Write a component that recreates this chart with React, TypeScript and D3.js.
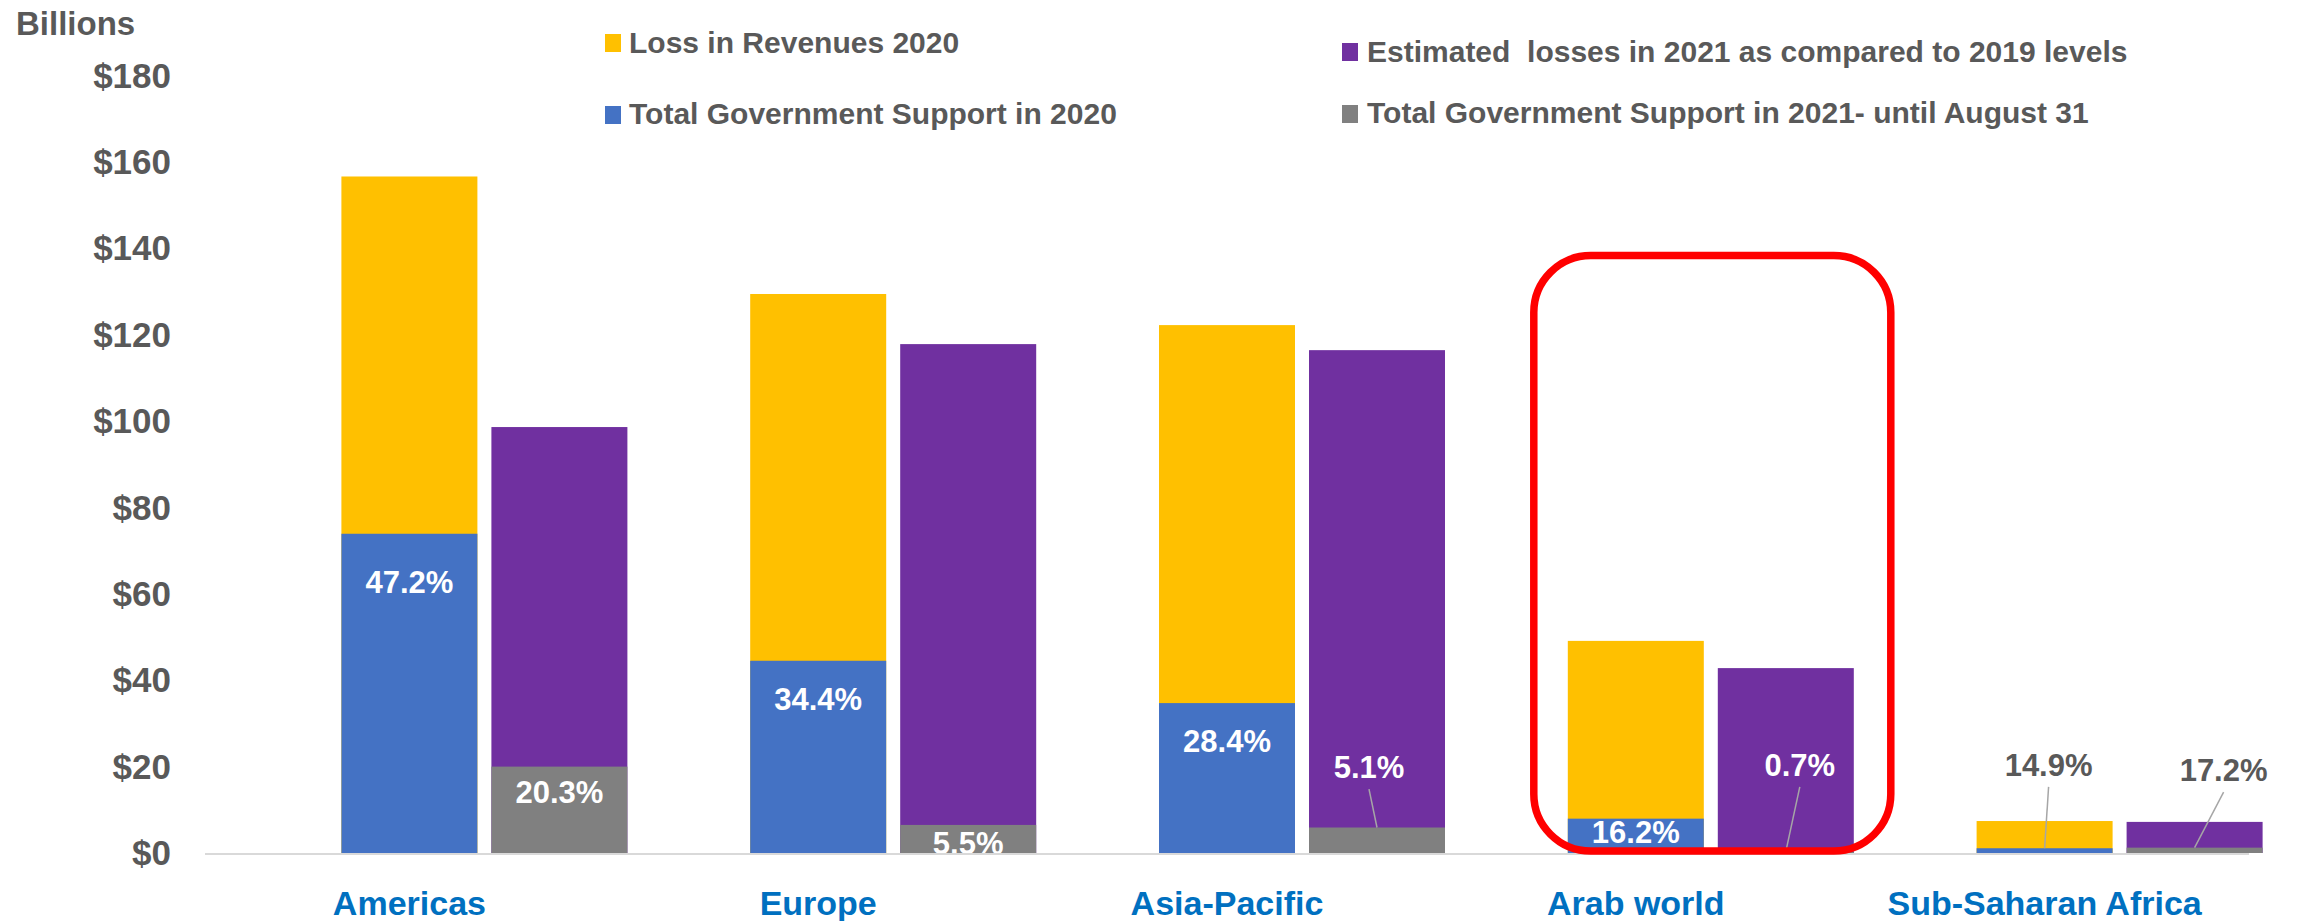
import * as d3 from "d3";

// regions on the x axis
const regions = ["Americas", "Europe", "Asia-Pacific", "Arab world", "Sub-Saharan Africa"];

// billions of dollars
const lossRevenue2020 = [156.6, 129.4, 122.2, 49.1, 7.4];
const govSupport2020 = [73.9, 44.5, 34.7, 7.95, 1.1];
const lossEstimate2021 = [98.6, 117.8, 116.4, 42.8, 7.2];
const govSupport2021 = [20.0, 6.5, 5.9, 0.3, 1.24];

// share of the loss covered by support, as printed
const share2020 = ["47.2%", "34.4%", "28.4%", "16.2%", "14.9%"];
const share2021 = ["20.3%", "5.5%", "5.1%", "0.7%", "17.2%"];
// level (in billions) where each share label sits
const share2020At = [62.7, 35.6, 25.9, 4.9, 20.4];
const share2021At = [14.1, 2.3, 19.9, 20.4, 19.2];
// small sideways nudges of the callout labels (px)
const share2020Nudge = [0, 0, 0, 0, 4];
const share2021Nudge = [0, 0, -8, 14, 29];

const yTicks = [0, 20, 40, 60, 80, 100, 120, 140, 160, 180];

const legendItems = [
  { label: "Loss in Revenues 2020", color: "#FFC000" },
  { label: "Total Government Support in 2020", color: "#4472C4" },
  { label: "Estimated  losses in 2021 as compared to 2019 levels", color: "#7030A0" },
  { label: "Total Government Support in 2021- until August 31", color: "#808080" },
];

const highlightRegion = "Arab world";
const highlightTop = 138.3;

const W = 2297;
const H = 921;
const FONT = "'Liberation Sans', Arial, sans-serif";
const TEXT_GREY = "#595959";

const x = d3.scaleBand<string>().domain(regions).range([205, 2249]).padding(0);
const y = d3.scaleLinear().domain([0, 180]).range([853, 75.4]);

const barW = 136;
const barGap = 14;
const fmt = (v: number) => "$" + d3.format("d")(v);

// left column of a group is centred in the band, the 2021 column sits to its right
const col2020 = (r: string) => x(r)! + x.bandwidth() / 2 - barW / 2;
const col2021 = (r: string) => col2020(r) + barW + barGap;

export default function App() {
  const legendPos = [
    { sx: 605, sy: 34, tx: 629, ty: 53 },
    { sx: 605, sy: 106, tx: 629, ty: 124 },
    { sx: 1342, sy: 43, tx: 1367, ty: 62 },
    { sx: 1342, sy: 105, tx: 1367, ty: 123 },
  ];

  const shareLabels = (
    col: (r: string) => number,
    total: number[],
    part: number[],
    texts: string[],
    at: number[],
    nudge: number[]
  ) =>
    regions.map((r, i) => {
      const cx = col(r) + barW / 2;
      const lx = cx + nudge[i];
      const ly = y(at[i]);
      const outside = at[i] > part[i];
      const aboveBar = at[i] > total[i];
      return (
        <g key={r + texts[i]}>
          {outside && (
            <line
              x1={lx}
              y1={ly + 22}
              x2={cx}
              y2={y(part[i])}
              stroke="#A6A6A6"
              strokeWidth={1.5}
            />
          )}
          <text
            x={lx}
            y={ly}
            dy="0.35em"
            textAnchor="middle"
            fontSize={31}
            fontWeight="bold"
            fill={aboveBar ? TEXT_GREY : "#FFFFFF"}
            clipPath="url(#plotClip)"
          >
            {texts[i]}
          </text>
        </g>
      );
    });

  const hx = col2020(highlightRegion) - 34;
  const hx2 = col2021(highlightRegion) + barW + 37;

  return (
    <svg
      width={W}
      height={H}
      style={{ position: "absolute", left: 0, top: 0, background: "#fff" }}
      fontFamily={FONT}
    >
      <defs>
        <clipPath id="plotClip">
          <rect x={0} y={0} width={W} height={y(0)} />
        </clipPath>
      </defs>

      <text x={16} y={35} fontSize={33} fontWeight="bold" fill={TEXT_GREY}>
        Billions
      </text>

      {yTicks.map((t) => (
        <text
          key={t}
          x={171}
          y={y(t)}
          dy="0.35em"
          textAnchor="end"
          fontSize={35}
          fontWeight="bold"
          fill={TEXT_GREY}
        >
          {fmt(t)}
        </text>
      ))}

      {legendItems.map((d, i) => (
        <g key={d.label}>
          <rect x={legendPos[i].sx} y={legendPos[i].sy} width={16} height={18} fill={d.color} />
          <text
            x={legendPos[i].tx}
            y={legendPos[i].ty}
            fontSize={30}
            fontWeight="bold"
            fill={TEXT_GREY}
            style={{ whiteSpace: "pre" }}
          >
            {d.label}
          </text>
        </g>
      ))}

      {regions.map((r, i) => (
        <g key={r}>
          <rect x={col2020(r)} y={y(lossRevenue2020[i])} width={barW} height={y(0) - y(lossRevenue2020[i])} fill="#FFC000" />
          <rect x={col2020(r)} y={y(govSupport2020[i])} width={barW} height={y(0) - y(govSupport2020[i])} fill="#4472C4" />
          <rect x={col2021(r)} y={y(lossEstimate2021[i])} width={barW} height={y(0) - y(lossEstimate2021[i])} fill="#7030A0" />
          <rect x={col2021(r)} y={y(govSupport2021[i])} width={barW} height={y(0) - y(govSupport2021[i])} fill="#808080" />
        </g>
      ))}

      <line x1={205} x2={2249} y1={y(0) + 1} y2={y(0) + 1} stroke="#D9D9D9" strokeWidth={2} />

      {shareLabels(col2020, lossRevenue2020, govSupport2020, share2020, share2020At, share2020Nudge)}
      {shareLabels(col2021, lossEstimate2021, govSupport2021, share2021, share2021At, share2021Nudge)}

      {regions.map((r) => (
        <text
          key={r}
          x={col2020(r) + barW / 2}
          y={915}
          textAnchor="middle"
          fontSize={34}
          fontWeight="bold"
          fill="#0070C0"
        >
          {r}
        </text>
      ))}

      <rect
        x={hx}
        y={y(highlightTop)}
        width={hx2 - hx}
        height={y(0) - 2 - y(highlightTop)}
        rx={57}
        ry={57}
        fill="none"
        stroke="#FF0000"
        strokeWidth={7.5}
      />
    </svg>
  );
}
